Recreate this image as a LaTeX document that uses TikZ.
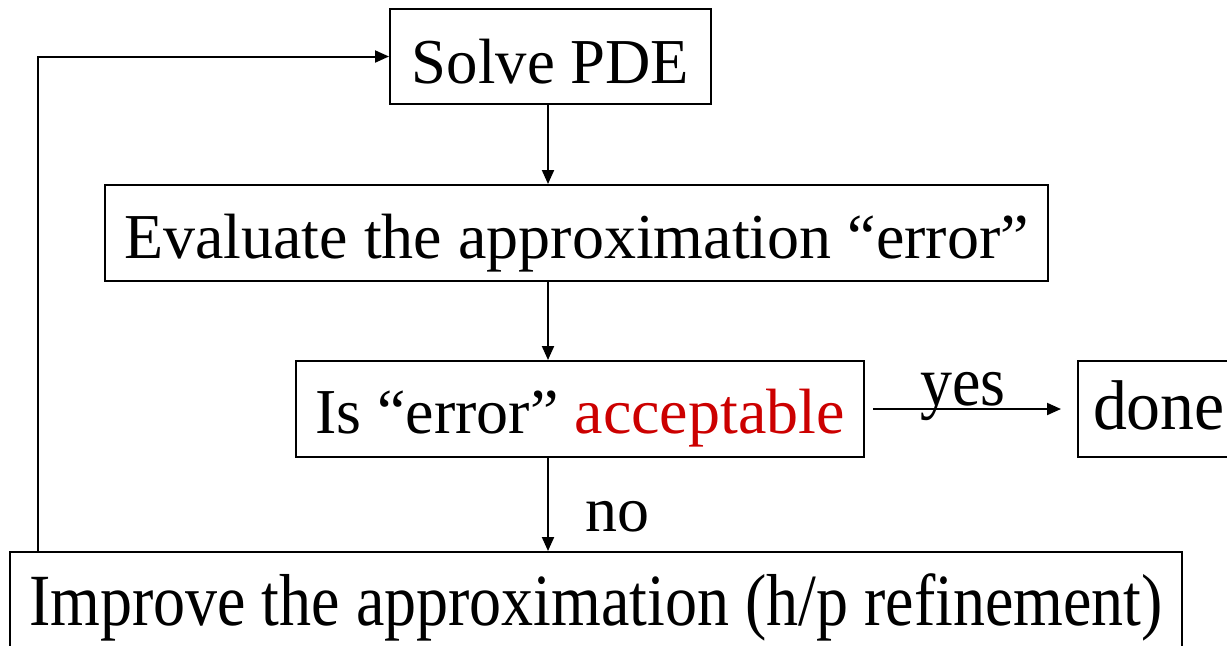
\documentclass[tikz,border=0pt]{standalone}
\usepackage{fontspec}
\setmainfont{Liberation Serif}
\usetikzlibrary{arrows.meta}
\definecolor{acol}{RGB}{204,0,0}
\tikzset{every picture/.style={x=0.5pt,y=-0.5pt}}
\tikzset{box/.style={draw,line width=1pt,inner sep=0pt,font=\fontsize{32}{38}\selectfont}}
\tikzset{edge/.style={-{Triangle[length=7pt,width=6pt]},line width=1pt}}
\tikzset{lbl/.style={inner sep=0pt,anchor=base,font=\fontsize{32}{38}\selectfont}}

\begin{document}
\begin{tikzpicture}
\useasboundingbox (0,0) rectangle (1227,645);

\node [box,minimum width=160.5pt,text height=37pt,text depth=10.5pt] (solve) at (550.5,56.5) {\scalebox{0.98}[1]{Solve PDE}};
\node [box,minimum width=471.5pt,text height=36.5pt,text depth=11.5pt] (eval) at (576.5,233) {Evaluate the approximation “error”};
\node [box,minimum width=284pt,text height=36pt,text depth=12pt] (accept) at (580,409) {Is “error” \textcolor{acol}{acceptable}};
\node [box,minimum width=81pt,text height=34pt,text depth=14pt] (done) at (1159,409) {\scalebox{1.06}[1.1]{done}};
\node [box,minimum width=586pt,text height=36.5pt,text depth=23.5pt] (improve) at (596,612) {\scalebox{1}[1.15]{Improve the approximation (h/p refinement)}};

\coordinate (mid) at (548,0);
\coordinate (back) at (38,0);

\draw [edge] (mid |- solve.south) -- (mid |- eval.north);
\draw [edge] (mid |- eval.south) -- (mid |- accept.north);
\draw [edge] (mid |- accept.south) -- (mid |- improve.north);
\draw [edge] ([xshift=4pt]accept.east) -- ([xshift=-8pt]done.west);
\draw [edge] (back |- improve.north) |- (solve.west);

\node [lbl] (yes) at (963,405) {\scalebox{1}[1.1]{yes}};
\node [lbl] (no) at (617,531) {no};
\end{tikzpicture}
\end{document}
